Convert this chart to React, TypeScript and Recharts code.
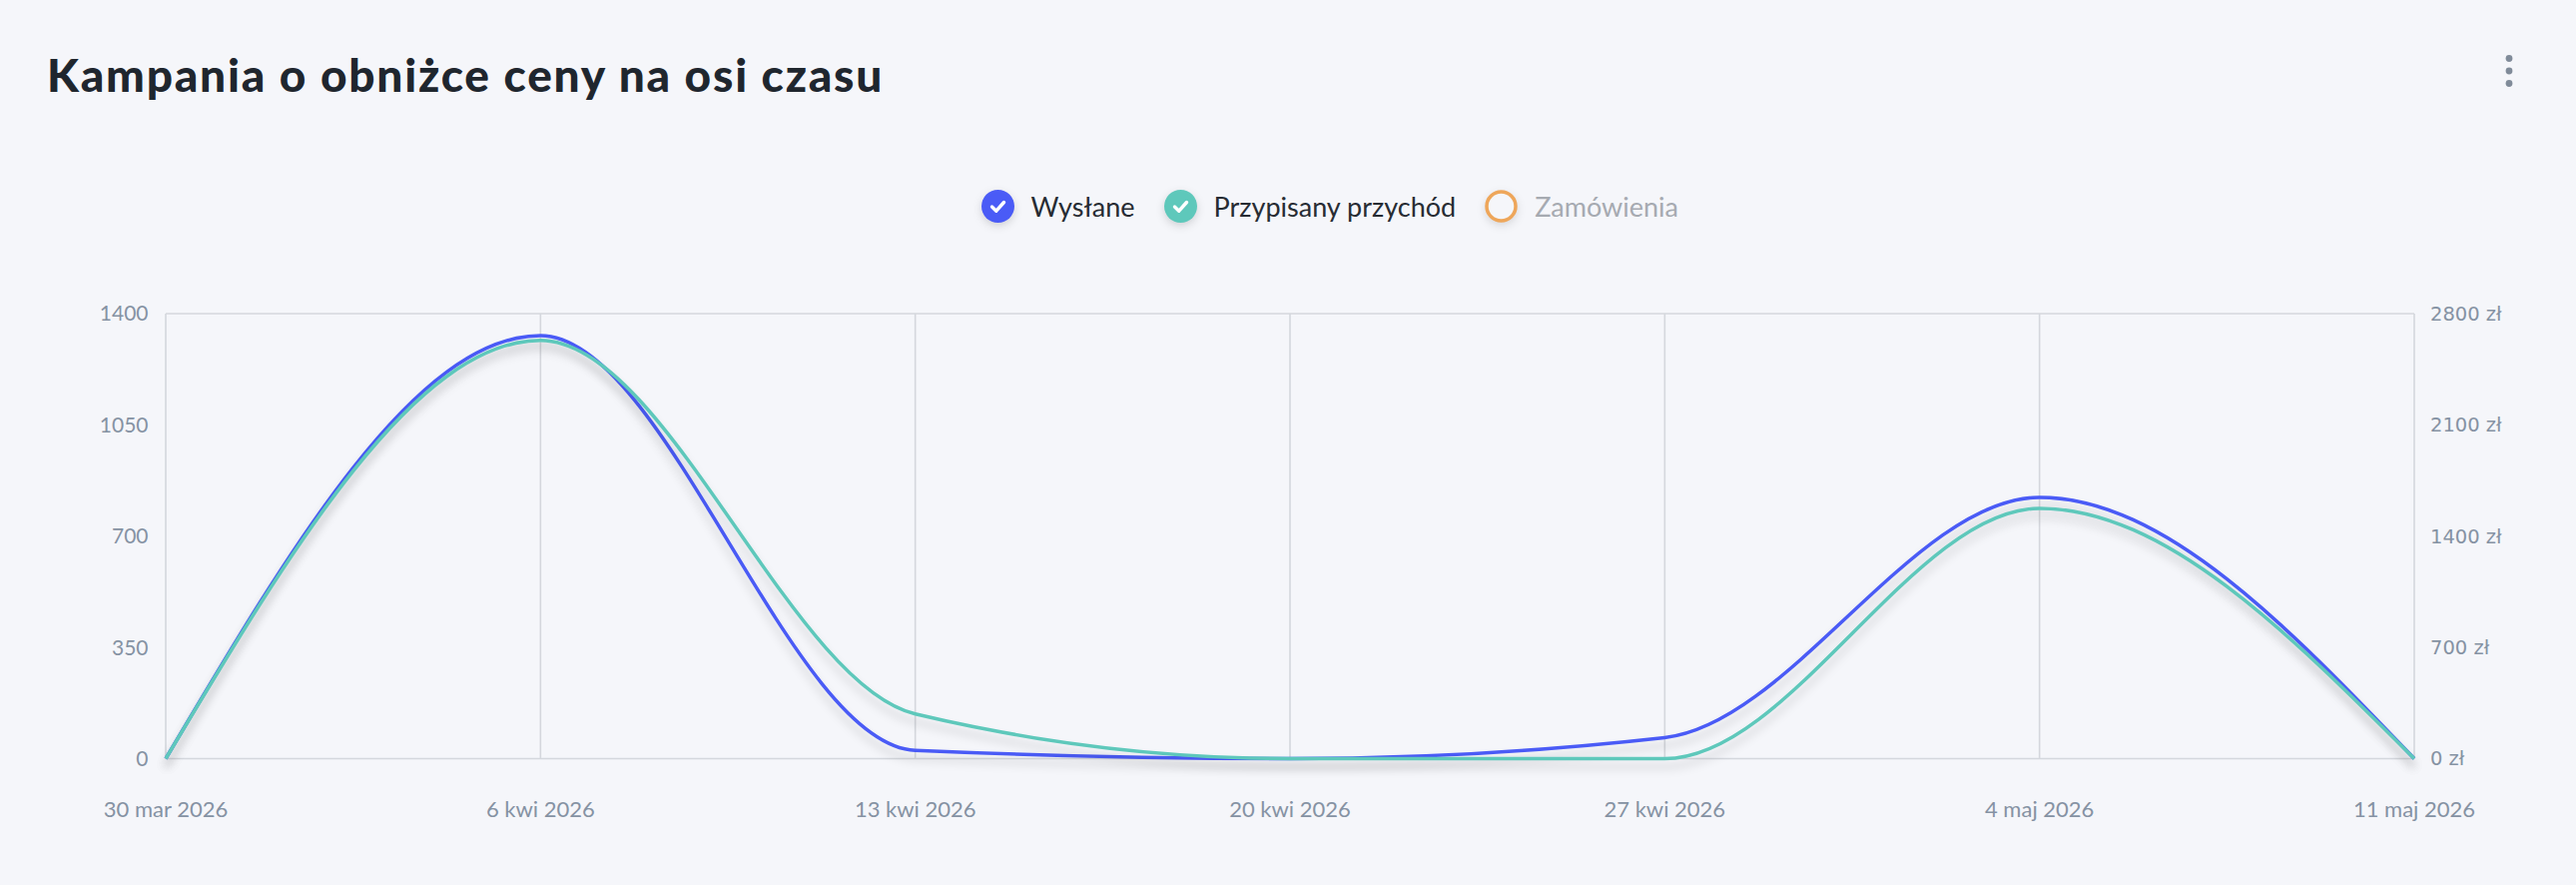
/**
 * Kampania o obniżce ceny — oś czasu (wysłane / przypisany przychód).
 */
import { LineChart, Line, XAxis, YAxis, CartesianGrid, ReferenceLine } from 'recharts';

const dates = ['30 mar 2026', '6 kwi 2026', '13 kwi 2026', '20 kwi 2026', '27 kwi 2026', '4 maj 2026', '11 maj 2026'];
const sent = [0, 1331, 26, 0, 66, 822, 0];
const revenue = [0, 2632, 281, 0, 0, 1575, 0];

const leftTicks = [0, 350, 700, 1050, 1400];
const rightTicks = [0, 700, 1400, 2100, 2800];

const legendNames = ['Wysłane', 'Przypisany przychód', 'Zamówienia'];
const legendColors = ['#4a5bf6', '#5ec8bb', '#eea65a'];
const legendActive = [true, true, false];

const rows = dates.map((d, i) => ({ date: d, sent: sent[i], revenue: revenue[i] }));

const AXIS_GRAY = '#8592a3';
const GRID = '#d4d7dd';

function LegendItem({ name, color, active }: { name: string; color: string; active: boolean }) {
  return (
    <div style={{ display: 'flex', alignItems: 'center', marginRight: 29 }}>
      {active ? (
        <svg width={33} height={33} style={{ overflow: 'visible', filter: 'drop-shadow(0 3px 4px rgba(0,0,0,0.15))' }}>
          <circle cx={16.5} cy={16.5} r={16.5} fill={color} />
          <path d="M10.5 17 L14.8 21.2 L22.5 12.5" fill="none" stroke="#fff" strokeWidth={3.4} strokeLinecap="round" strokeLinejoin="round" />
        </svg>
      ) : (
        <svg width={33} height={33} style={{ overflow: 'visible', filter: 'drop-shadow(0 3px 4px rgba(0,0,0,0.12))' }}>
          <circle cx={16.5} cy={16.5} r={14.5} fill="#f5f6fa" stroke={color} strokeWidth={3.5} />
        </svg>
      )}
      <span style={{ marginLeft: 17, fontSize: 27, color: active ? '#272c33' : '#a6aab1', whiteSpace: 'nowrap' }}>{name}</span>
    </div>
  );
}

export default function App() {
  return (
    <div
      style={{
        position: 'absolute',
        left: 0,
        top: 0,
        width: 2580,
        height: 886,
        background: '#f5f6fa',
        fontFamily: 'Lato, "Noto Sans", sans-serif',
        overflow: 'hidden',
      }}
    >
      <style>{`.shadow-line path.recharts-line-curve { filter: drop-shadow(0 8px 5px rgba(0,0,0,0.16)); }`}</style>
      <div style={{ position: 'absolute', left: 0, top: 0 }}>
        <LineChart width={2580} height={886} data={rows} margin={{ top: 314, right: 0, bottom: 0, left: 0 }}>
          <CartesianGrid horizontal={false} vertical stroke={GRID} strokeWidth={1.6} />
          <XAxis
            dataKey="date"
            height={126.5}
            interval={0}
            axisLine={false}
            tickLine={false}
            tickSize={0}
            tickMargin={43}
            tick={{ fill: AXIS_GRAY, fontSize: 22, fontFamily: 'Lato' }}
          />
          <YAxis
            yAxisId="left"
            width={166}
            domain={[0, 1400]}
            ticks={leftTicks}
            axisLine={false}
            tickLine={false}
            tickSize={0}
            tickMargin={17.5}
            tick={{ fill: AXIS_GRAY, fontSize: 21, fontFamily: 'Lato' }}
          />
          <YAxis
            yAxisId="right"
            orientation="right"
            width={162}
            domain={[0, 2800]}
            ticks={rightTicks}
            axisLine={false}
            tickLine={false}
            tickSize={0}
            tickMargin={16}
            tickFormatter={(v: number) => `${v} zł`}
            tick={{ fill: AXIS_GRAY, fontSize: 19.5, fontFamily: '"DejaVu Sans"' }}
          />
          <ReferenceLine yAxisId="left" y={1400} stroke={GRID} strokeWidth={1.6} />
          <ReferenceLine yAxisId="left" y={0} stroke={GRID} strokeWidth={1.6} />
          <Line
            yAxisId="left"
            className="shadow-line"
            type="monotone"
            dataKey="sent"
            name="Wysłane"
            stroke={legendColors[0]}
            strokeWidth={3.5}
            dot={false}
            isAnimationActive={false}
          />
          <Line
            yAxisId="right"
            className="shadow-line"
            type="monotone"
            dataKey="revenue"
            name="Przypisany przychód"
            stroke={legendColors[1]}
            strokeWidth={3.5}
            dot={false}
            isAnimationActive={false}
          />
        </LineChart>
      </div>

      <div
        style={{
          position: 'absolute',
          left: 47,
          top: 44,
          fontSize: 46,
          fontWeight: 900,
          color: '#1f262e',
          lineHeight: '62px',
          whiteSpace: 'nowrap',
          letterSpacing: 1.8,
        }}
      >
        Kampania o obniżce ceny na osi czasu
      </div>

      <svg style={{ position: 'absolute', left: 2505, top: 50 }} width={16} height={42}>
        {[8.5, 21, 33.5].map((cy) => (
          <circle key={cy} cx={8} cy={cy} r={3.4} fill="#808b99" />
        ))}
      </svg>

      <div style={{ position: 'absolute', left: 982.5, top: 190, display: 'flex', alignItems: 'center', height: 33 }}>
        {legendNames.map((n, i) => (
          <LegendItem key={n} name={n} color={legendColors[i]} active={legendActive[i]} />
        ))}
      </div>
    </div>
  );
}
